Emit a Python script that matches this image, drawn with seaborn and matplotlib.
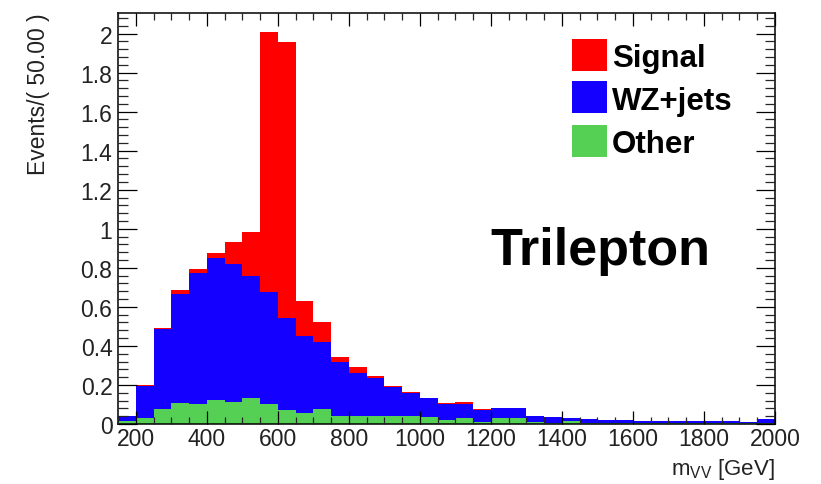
import numpy as np
import pandas as pd
import matplotlib
matplotlib.use("Agg")
import matplotlib.pyplot as plt
from matplotlib.patches import Rectangle
from matplotlib.ticker import MultipleLocator, FuncFormatter
import seaborn as sns

# ---- data (events per 50 GeV bin, bins from 150 to 2000 GeV) ----
bin_lefts = list(range(150, 2000, 50))
other = [0.017, 0.032, 0.075, 0.106, 0.100, 0.123, 0.114, 0.133, 0.102, 0.073,
         0.056, 0.077, 0.043, 0.043, 0.043, 0.043, 0.039, 0.034, 0.022, 0.029,
         0.012, 0.032, 0.032, 0.009, 0.004, 0.014, 0.005, 0.004, 0.004, 0.004,
         0.004, 0.004, 0.003, 0.003, 0.003, 0.006, 0.004]
wz_jets = [0.026, 0.164, 0.411, 0.558, 0.671, 0.725, 0.708, 0.626, 0.572, 0.468,
           0.393, 0.344, 0.273, 0.218, 0.192, 0.145, 0.120, 0.099, 0.082, 0.075,
           0.060, 0.050, 0.050, 0.032, 0.030, 0.017, 0.021, 0.016, 0.015, 0.013,
           0.012, 0.011, 0.012, 0.011, 0.011, 0.002, 0.024]
signal = [0.000, 0.002, 0.004, 0.022, 0.022, 0.027, 0.108, 0.222, 1.336, 1.413,
          0.179, 0.101, 0.025, 0.032, 0.009, 0.008, 0.003, 0.002, 0.004, 0.007,
          0.005, 0.002, 0.002, 0.001, 0.001, 0.001, 0.001, 0.001, 0.001, 0.0005,
          0.0005, 0.0, 0.0, 0.0, 0.0, 0.0, 0.0]
processes = ["Signal", "WZ+jets", "Other"]
colors = {"Signal": "#ff0000", "WZ+jets": "#1400ff", "Other": "#55d055"}
bin_width = 50
x_min, x_max = 150, 2000

rows = []
for name, vals in zip(processes, [signal, wz_jets, other]):
    for left, v in zip(bin_lefts, vals):
        rows.append({"mVV": left + bin_width / 2, "events": v, "process": name})
df = pd.DataFrame(rows)

sns.set_theme(style="ticks")
plt.rcParams["font.family"] = ["Liberation Sans", "DejaVu Sans"]
plt.rcParams["mathtext.fontset"] = "custom"
plt.rcParams["mathtext.rm"] = "Liberation Sans"
plt.rcParams["mathtext.it"] = "Liberation Sans"

W, H = 821, 485
fig = plt.figure(figsize=(W / 100, H / 100), dpi=100)
ax = fig.add_axes([118 / W, 1 - 425 / H, (775 - 118) / W, (425 - 14) / H])

sns.histplot(data=df, x="mVV", weights="events", hue="process",
             hue_order=processes, palette=colors, multiple="stack",
             binwidth=bin_width, binrange=(x_min, x_max),
             element="step", fill=True, alpha=1.0,
             linewidth=0, legend=False, ax=ax)

ax.set_xlim(x_min, x_max)
ax.set_ylim(0, 2.105)
ax.set_xlabel("")
ax.set_ylabel("")

ax.xaxis.set_major_locator(MultipleLocator(200))
ax.xaxis.set_minor_locator(MultipleLocator(50))
ax.yaxis.set_major_locator(MultipleLocator(0.2))
ax.yaxis.set_minor_locator(MultipleLocator(0.04))
ax.yaxis.set_major_formatter(FuncFormatter(lambda v, p: f"{round(v, 2):g}"))

for s in ax.spines.values():
    s.set_linewidth(1.1)
    s.set_color("black")
    s.set_visible(True)

ax.tick_params(axis="x", which="major", direction="in", length=9.5, width=0.9,
               top=True, bottom=True, labelsize=16.5, pad=2, colors="black",
               labelcolor="#222222")
ax.tick_params(axis="x", which="minor", direction="in", length=4.8, width=0.9,
               top=True, bottom=True)
ax.tick_params(axis="y", which="major", direction="in", length=14, width=0.9,
               left=True, right=True, labelsize=16.5, pad=4, colors="black",
               labelcolor="#222222")
ax.tick_params(axis="y", which="minor", direction="in", length=7, width=0.9,
               left=True, right=True)
ax.set_axisbelow(False)

# axis titles
fig.text(38 / W, 1 - 13 / H, "Events/( 50.00 )", rotation=90, ha="center",
         va="top", fontsize=16.5, color="#222222")
fig.text(775 / W, 1 - 475 / H, r"m$_{\rm VV}$ [GeV]", ha="right",
         va="baseline", fontsize=16, color="#222222")

# Trilepton label
fig.text(490 / W, 1 - 265 / H, "Trilepton", ha="left", va="baseline",
         fontsize=37.5, fontweight="bold", color="black")

# legend
leg_x0, leg_x1 = 572, 607
leg_rows = [("Signal", 39.5, 71.5, 67), ("WZ+jets", 82, 114, 110),
            ("Other", 125.5, 157.5, 153)]
for name, ytop, ybot, base in leg_rows:
    fig.add_artist(Rectangle((leg_x0 / W, 1 - ybot / H), (leg_x1 - leg_x0) / W,
                             (ybot - ytop) / H, transform=fig.transFigure,
                             facecolor=colors[name], edgecolor="none"))
    fig.text(612 / W, 1 - base / H, name, ha="left", va="baseline",
             fontsize=22.5, fontweight="bold", color="black")

fig.savefig("out.png", dpi=100, facecolor="white")
